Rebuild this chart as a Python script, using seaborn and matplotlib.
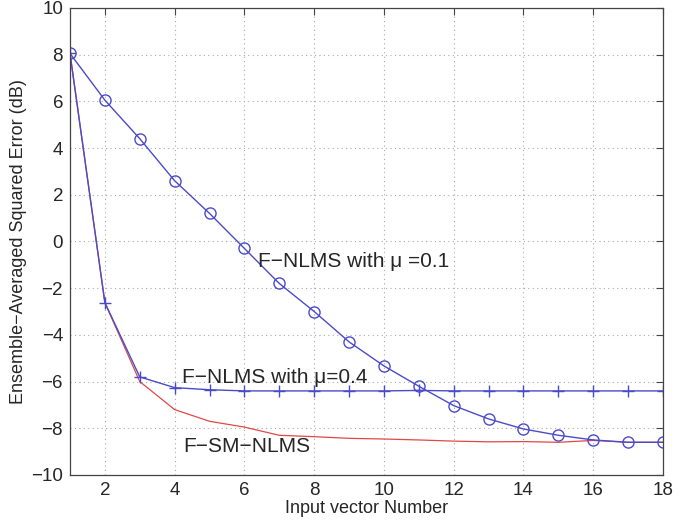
import numpy as np
import pandas as pd
import matplotlib
matplotlib.use("Agg")
import matplotlib.pyplot as plt
import seaborn as sns

# Data
iterations = list(range(1, 19))
nlms_mu01 = [8.05, 6.05, 4.4, 2.6, 1.2, -0.3, -1.8, -3.0, -4.3, -5.33,
             -6.2, -7.03, -7.6, -8.03, -8.3, -8.5, -8.6, -8.6]
nlms_mu04 = [8.05, -2.62, -5.8, -6.26, -6.35, -6.4, -6.4, -6.4, -6.4, -6.4,
             -6.38, -6.4, -6.4, -6.4, -6.4, -6.4, -6.4, -6.4]
sm_nlms = [8.05, -2.62, -6.0, -7.2, -7.7, -7.95, -8.3, -8.36, -8.43, -8.46,
           -8.5, -8.55, -8.58, -8.57, -8.6, -8.52, -8.6, -8.6]

label_mu01 = "F\u2212NLMS with \u03bc =0.1"
label_mu04 = "F\u2212NLMS with \u03bc=0.4"
label_sm = "F\u2212SM\u2212NLMS"

sns.set_style("white")
plt.rcParams['font.family'] = ['Liberation Sans', 'DejaVu Sans']

fig = plt.figure(figsize=(6.95, 5.27), dpi=100)
ax = fig.add_axes([0.1007, 0.0987, 0.8533, 0.8863])

blue = "#4b4bc8"
red = "#e04848"

df = pd.DataFrame({"n": iterations, "mu01": nlms_mu01, "mu04": nlms_mu04, "sm": sm_nlms})

sns.lineplot(data=df, x="n", y="sm", ax=ax, color=red, linewidth=0.9)
sns.lineplot(data=df, x="n", y="mu04", ax=ax, color=blue, linewidth=1.0,
             marker="+", markersize=8, markeredgewidth=1.0, markeredgecolor=blue)
sns.lineplot(data=df, x="n", y="mu01", ax=ax, color=blue, linewidth=1.0,
             marker="o", markersize=8, markerfacecolor="none",
             markeredgewidth=1.0, markeredgecolor=blue)

ax.set_xlim(1, 18)
ax.set_ylim(-10, 10)
ax.set_xticks(range(2, 19, 2))
ax.set_yticks(range(-10, 11, 2))
ax.set_yticklabels([str(v).replace("-", "\u2212") for v in range(-10, 11, 2)])
ax.grid(True, linestyle=(0, (1, 3)), color="#aaaaaa", linewidth=0.8)
ax.tick_params(direction="in", length=5, labelsize=13.5, top=True, right=True,
               color="#444444", pad=5)
for s in ax.spines.values():
    s.set_color("#444444")
    s.set_linewidth(0.9)

ax.set_xlabel("Input vector Number", fontsize=13, labelpad=1)
ax.set_ylabel("Ensemble\u2212Averaged Squared Error (dB)", fontsize=13, labelpad=3)

ax.text(6.39, -1.09, label_mu01, fontsize=15, va="baseline", ha="left")
ax.text(4.21, -6.06, label_mu04, fontsize=15, va="baseline", ha="left")
ax.text(4.24, -9.01, label_sm, fontsize=15, va="baseline", ha="left")

fig.savefig("out.png", dpi=100)
